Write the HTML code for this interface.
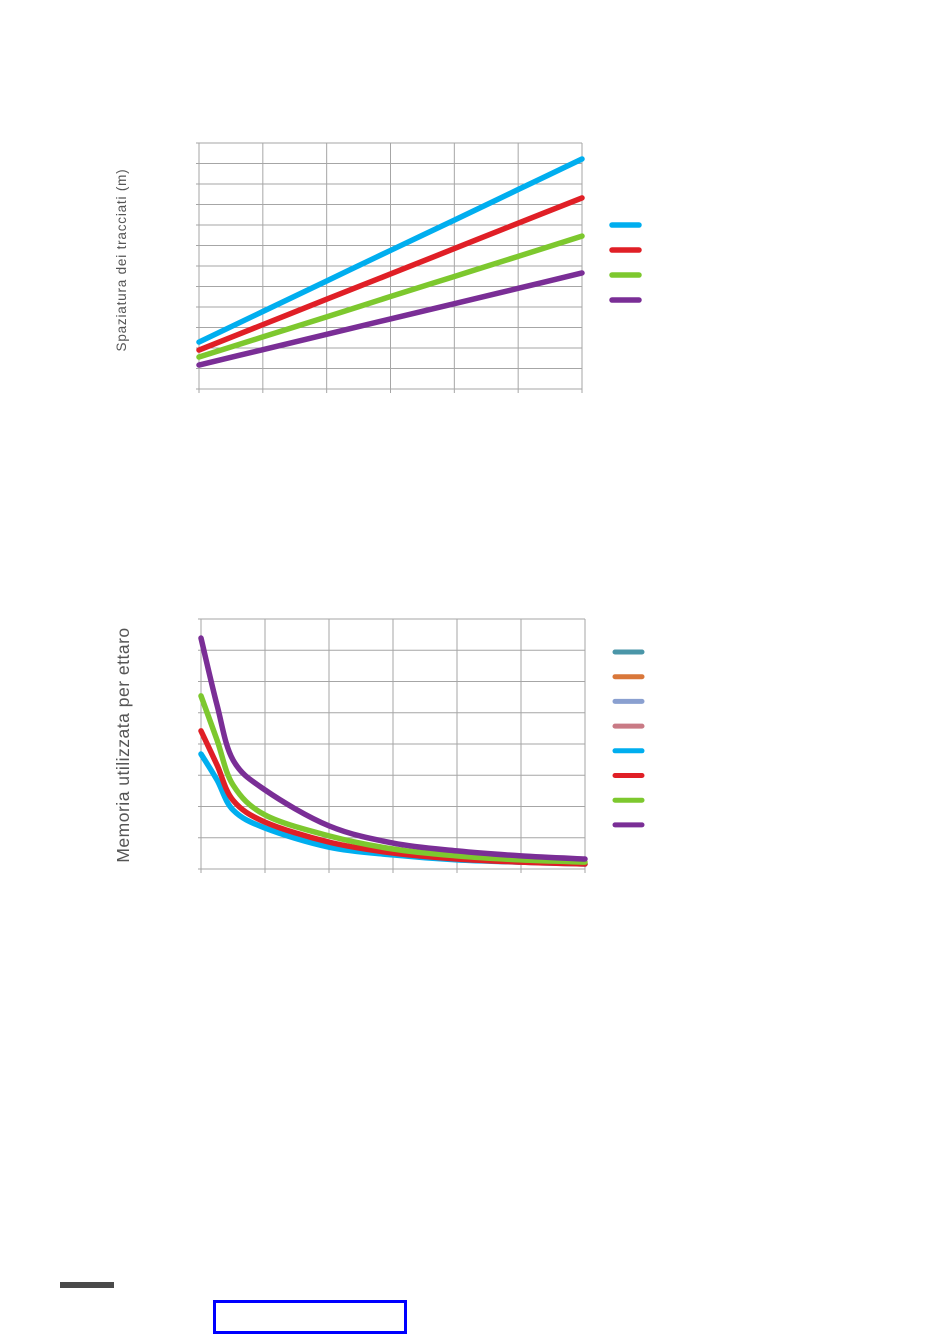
<!DOCTYPE html>
<html><head><meta charset="utf-8"><style>
html,body{margin:0;padding:0;background:#fff;}
body{width:950px;height:1343px;position:relative;overflow:hidden;font-family:"Liberation Sans",sans-serif;}
svg{position:absolute;left:0;top:0;}
</style></head><body>
<svg id="s" width="950" height="1343">
  <g id="c1"></g>
  <g id="c2"></g>
  <text transform="translate(126,260) rotate(-90)" text-anchor="middle" font-size="13.5" fill="#555" letter-spacing="0.8" font-family="Liberation Sans, sans-serif">Spaziatura dei tracciati (m)</text>
  <text transform="translate(129,745) rotate(-90)" text-anchor="middle" font-size="17.5" fill="#555" letter-spacing="0.5" font-family="Liberation Sans, sans-serif">Memoria utilizzata per ettaro</text>
  <rect x="60" y="1282" width="54" height="6" fill="#4a4a4a"/>
  <rect x="214.5" y="1301.5" width="191" height="31" fill="none" stroke="#0000ff" stroke-width="3"/>
</svg>
<script>
var NS="http://www.w3.org/2000/svg";
// Chart 1 data
var c1X=[0,1,2,3,4,5,6];
var c1Blue=[2.29,3.78,5.27,6.76,8.24,9.73,11.22];
var c1Red=[1.9,3.14,4.38,5.61,6.85,8.09,9.32];
var c1Green=[1.56,2.54,3.52,4.51,5.49,6.47,7.46];
var c1Purple=[1.17,1.92,2.67,3.42,4.16,4.91,5.66];
// Chart 2 data
var c2X=[0,0.25,0.5,1,2,3,4,5,6];
var c2Purple=[7.39,5.25,3.49,2.53,1.38,0.83,0.58,0.42,0.32];
var c2Green=[5.54,4.13,2.69,1.73,1.06,0.64,0.42,0.29,0.22];
var c2Red=[4.42,3.33,2.2,1.5,0.86,0.51,0.32,0.22,0.16];
var c2Blue=[3.68,2.85,1.89,1.31,0.7,0.45,0.29,0.22,0.16];
var c2LegendColors=["#4a96a8","#d9773a","#8aa0d0","#c97a85","#00aeef","#e01f26","#7dc82e","#7a2e96"];

function mk(parent,tag,attrs){var e=document.createElementNS(NS,tag);for(var k in attrs)e.setAttribute(k,attrs[k]);parent.appendChild(e);return e;}

function drawGrid(g,x0,x1,y0,y1,nx,ny){
  for(var i=0;i<=nx;i++){var x=x0+(x1-x0)*i/nx;
    var l=mk(g,'line',{x1:x,x2:x,y1:y0,y2:y1+4,stroke:'#a6a6a6','stroke-width':1});
    
    }
  for(var j=0;j<=ny;j++){var y=y0+(y1-y0)*j/ny;
    var l2=mk(g,'line',{x1:x0-3,x2:x1,y1:y,y2:y,stroke:'#a6a6a6','stroke-width':1});
    
    }
}
function smoothPath(pts){
  var d='M'+pts[0][0]+','+pts[0][1];
  for(var i=0;i<pts.length-1;i++){
    var p0=pts[Math.max(0,i-1)],p1=pts[i],p2=pts[i+1],p3=pts[Math.min(pts.length-1,i+2)];
    d+=' C'+(p1[0]+(p2[0]-p0[0])/6)+','+(p1[1]+(p2[1]-p0[1])/6)+' '+(p2[0]-(p3[0]-p1[0])/6)+','+(p2[1]-(p3[1]-p1[1])/6)+' '+p2[0]+','+p2[1];
  }
  return d;
}
// Chart 1
var g1=document.getElementById('c1');
var x1s=function(v){return 199+v*(582-199)/6;};
var y1s=function(v){return 389-v*(389-143)/12;};
drawGrid(g1,199,582,143,389,6,12);
var s1=[[c1Blue,'#00aeef','series-blue'],[c1Red,'#e01f26','series-red'],[c1Green,'#7dc82e','series-green'],[c1Purple,'#7a2e96','series-purple']];
s1.forEach(function(s,k){
  var pts=c1X.map(function(x,i){return [x1s(x),y1s(s[0][i])];});
  var p=mk(g1,'path',{d:smoothPath(pts),fill:'none',stroke:s[1],'stroke-width':5.5,'stroke-linecap':'round'});
  
  
  var lg=mk(g1,'line',{x1:612,x2:639,y1:225+k*25,y2:225+k*25,stroke:s[1],'stroke-width':5.5,'stroke-linecap':'round'});
  
  
});
// Chart 2
var g2=document.getElementById('c2');
var x2s=function(v){return 201+v*(585-201)/6;};
var y2s=function(v){return 869-v*(869-619)/8;};
drawGrid(g2,201,585,619,869,6,8);
var s2=[[c2Blue,'#00aeef','series-blue'],[c2Red,'#e01f26','series-red'],[c2Green,'#7dc82e','series-green'],[c2Purple,'#7a2e96','series-purple']];
s2.forEach(function(s){
  var pts=c2X.map(function(x,i){return [x2s(x),y2s(s[0][i])];});
  var p=mk(g2,'path',{d:smoothPath(pts),fill:'none',stroke:s[1],'stroke-width':5.5,'stroke-linecap':'round'});
  
  
});
c2LegendColors.forEach(function(c,k){
  var y=652+k*24.7;
  var lg=mk(g2,'line',{x1:615,x2:642,y1:y,y2:y,stroke:c,'stroke-width':5,'stroke-linecap':'round'});
  
  
});
</script>
</body></html>
